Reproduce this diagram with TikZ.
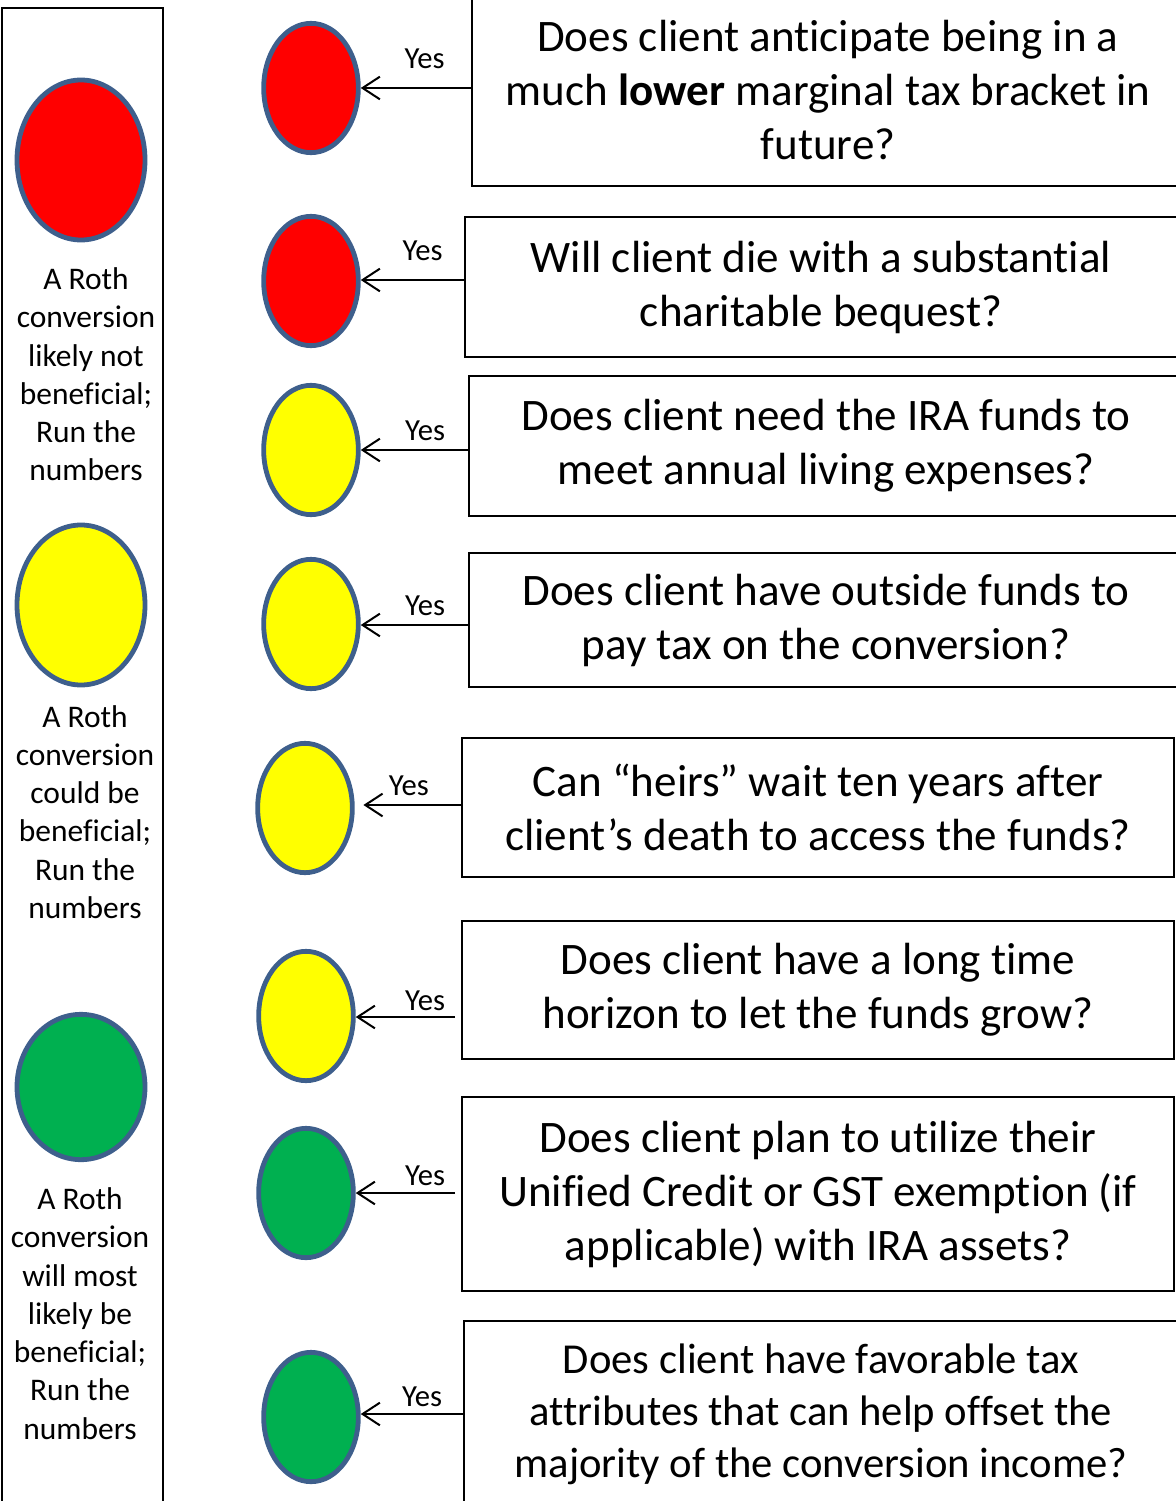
\documentclass[tikz,border=0pt]{standalone}
\usepackage{fontspec}
\setmainfont{Carlito}[Ligatures=NoCommon]
\usetikzlibrary{shapes.geometric,arrows.meta}
\definecolor{rimblue}{RGB}{62,95,140}
\definecolor{stopred}{RGB}{255,0,0}
\definecolor{waityellow}{RGB}{255,255,0}
\definecolor{gogreen}{RGB}{0,176,80}
\tikzstyle{light}=[ellipse,draw=rimblue,line width=3.6pt,inner sep=0pt,minimum width=71pt,minimum height=97pt]
\tikzstyle{biglight}=[light,minimum width=96pt,minimum height=120pt]
\tikzstyle{question}=[draw,line width=1.5pt,align=center,inner sep=0pt,font=\fontsize{33.8}{40.5}\selectfont]
\tikzstyle{legend}=[align=center,inner sep=0pt,font=\fontsize{23.6}{28.7}\selectfont]
\tikzstyle{yes}=[inner sep=0pt,font=\fontsize{23}{27}\selectfont]

\begin{document}
\begin{tikzpicture}[x=0.75pt,y=-0.75pt,line width=1.5pt,
    ->,>={Straight Barb[length=13pt,width=17pt,line width=1.5pt]}]
          \useasboundingbox (0,0) rectangle (1176,1501);
          \clip (0,0) rectangle (1176,1501);
          % legend column
          \draw[-] (2,8) rectangle (163,1520);
          \node[biglight,fill=stopred] (e1) at (81,160) {};
          \node[legend] (l1) at (86,374.5) {A Roth\\conversion\\likely not\\beneficial;\\Run the\\numbers};
          \node[biglight,fill=waityellow] (e2) at (81,605) {};
          \node[legend] (l2) at (85,812) {A Roth\\conversion\\could be\\beneficial;\\Run the\\numbers};
          \node[biglight,fill=gogreen,minimum height=109pt] (e3) at (81,1087) {};
          \node[legend] (l3) at (80,1313.5) {A Roth\\conversion\\will most\\likely be\\beneficial;\\Run the\\numbers};
          % questions
          \node[question,minimum width=534pt,minimum height=144pt] (q1) at (828,90)
            {Does client anticipate being in a\\much \textbf{lower} marginal tax bracket in\\future?};
          \node[question,minimum width=534pt,minimum height=104.25pt] (q2) at (821,287)
            {Will client die with a substantial\\charitable bequest?};
          \node[question,minimum width=535.5pt,minimum height=105pt] (q3) at (826,446)
            {Does client need the IRA funds to\\meet annual living expenses?};
          \node[question,minimum width=535.5pt,minimum height=100.5pt] (q4) at (826,620)
            {Does client have outside funds to\\pay tax on the conversion?};
          \node[question,minimum width=534pt,minimum height=104.25pt] (q5) at (818,807.5)
            {Can “heirs” wait ten years after\\client’s death to access the funds?};
          \node[question,minimum width=534pt,minimum height=103.5pt] (q6) at (818,990)
            {Does client have a long time\\horizon to let the funds grow?};
          \node[question,minimum width=534pt,minimum height=145.5pt] (q7) at (818,1194)
            {Does client plan to utilize their\\Unified Credit or GST exemption (if\\applicable) with IRA assets?};
          \node[question,minimum width=535.5pt,minimum height=139.5pt,font=\fontsize{32}{39}\selectfont] (q8) at (821,1414)
            {Does client have favorable tax\\attributes that can help offset the\\majority of the conversion income?};
          % answers
          \node[light,fill=stopred] (c1) at (311,88) {};
          \node[light,fill=stopred] (c2) at (311,281) {};
          \node[light,fill=waityellow] (c3) at (311,450) {};
          \node[light,fill=waityellow] (c4) at (311,624) {};
          \node[light,fill=waityellow] (c5) at (305,808) {};
          \node[light,fill=waityellow] (c6) at (306,1016) {};
          \node[light,fill=gogreen] (c7) at (306,1193) {};
          \node[light,fill=gogreen] (c8) at (311,1417) {};
          \path
            (q1.west |- c1) edge node[yes,pos=.42,above=13.5pt] {Yes} (c1.east)
            (q2.west |- 0,280) edge node[yes,pos=.40,above=13.5pt] {Yes} (c2.east |- 0,280)
            (q3.west |- c3) edge node[yes,pos=.40,above=6pt] {Yes} (c3.east)
            (q4.west |- 0,625) edge node[yes,pos=.40,above=6pt] {Yes} (c4.east |- 0,625)
            (q5.west |- 0,805) edge[shorten >=6.5pt] node[yes,pos=.49,above=6pt] {Yes} (c5.east |- 0,805)
            (q6.west |- 0,1017) edge[shorten <=4.5pt] node[yes,pos=.34,above=4pt] {Yes} (c6.east |- 0,1017)
            (q7.west |- c7) edge[shorten <=4.5pt] node[yes,pos=.34,above=4.5pt] {Yes} (c7.east)
            (q8.west |- 0,1414) edge node[yes,pos=.40,above=4.5pt] {Yes} (c8.east |- 0,1414);
        \end{tikzpicture}
\end{document}
